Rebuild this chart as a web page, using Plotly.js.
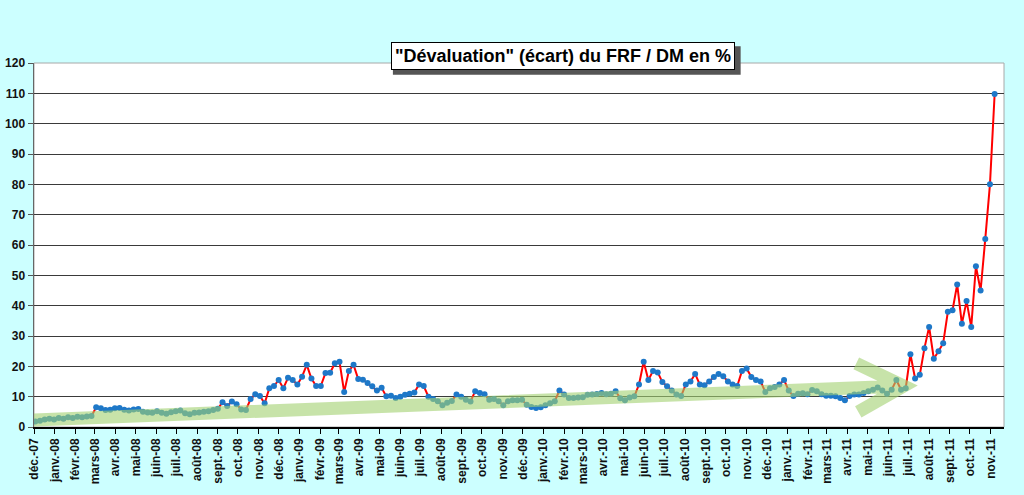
<!DOCTYPE html>
<html>
<head>
<meta charset="utf-8">
<script src="https://cdn.plot.ly/plotly-3.0.1.min.js"></script>
<style>
  html, body { margin: 0; padding: 0; background: #ccffff; }
  #chart { width: 1024px; height: 495px; }
</style>
</head>
<body>
<div id="chart"></div>
<script>
// weekly readings of the FRF / DM gap (%), first week starts 3 Dec 2007
const firstWeek = "2007-12-03";
const ecart = [
  1.8, 2.1, 2.5, 2.7, 2.5, 3.0, 2.7, 3.2, 3.0, 3.4, 3.2, 3.5, 3.6, 6.5, 6.2, 5.6,
  5.7, 6.2, 6.3, 5.7, 5.4, 5.8, 5.9, 5.0, 4.8, 4.7, 5.2, 4.7, 4.4, 4.9, 5.2, 5.4,
  4.5, 4.2, 4.7, 4.8, 5.0, 5.2, 5.6, 6.0, 8.2, 6.9, 8.4, 7.5, 5.8, 5.6, 9.2, 10.8,
  10.2, 7.8, 12.8, 13.5, 15.5, 12.8, 16.2, 15.5, 14.0, 16.6, 20.5, 16.0, 13.5, 13.5, 17.8, 17.9,
  21.0, 21.5, 11.5, 18.5, 20.5, 15.8, 15.6, 14.5, 13.4, 12.0, 12.9, 10.1, 10.3, 9.6, 10.0, 10.6,
  11.0, 11.4, 14.0, 13.5, 10.0, 9.2, 8.5, 7.2, 8.0, 8.6, 10.7, 10.0, 9.0, 8.4, 11.8, 11.2,
  10.8, 9.0, 9.2, 8.5, 7.2, 8.5, 8.8, 8.8, 9.0, 7.3, 6.6, 6.3, 6.5, 7.2, 7.8, 8.5,
  12.0, 10.7, 9.6, 9.6, 9.7, 9.8, 10.6, 10.7, 10.9, 11.2, 10.8, 11.0, 11.8, 9.5, 8.8, 9.7,
  10.1, 14.0, 21.5, 15.5, 18.5, 18.0, 14.8, 13.4, 12.0, 10.7, 10.2, 14.0, 15.0, 17.5, 14.0, 13.8,
  15.0, 16.5, 17.5, 16.7, 15.0, 14.0, 13.5, 18.5, 19.3, 16.5, 15.5, 15.0, 11.5, 12.8, 13.2, 14.0,
  15.5, 12.0, 10.2, 11.0, 11.1, 10.8, 12.2, 11.8, 10.8, 10.3, 10.3, 10.1, 9.6, 8.8, 10.2, 10.7,
  10.7, 11.2, 11.8, 12.3, 13.0, 12.0, 11.0, 12.3, 15.5, 12.3, 12.8, 24.0, 16.0, 17.2, 26.0, 33.0,
  22.5, 25.0, 27.6, 38.0, 38.5, 47.0, 34.0, 41.5, 33.0, 53.0, 45.0, 62.0, 80.0, 109.8
];

const monthLabels = [
  "déc.-07",
  "janv.-08", "févr.-08", "mars-08", "avr.-08", "mai-08", "juin-08",
  "juil.-08", "août-08", "sept.-08", "oct.-08", "nov.-08", "déc.-08",
  "janv.-09", "févr.-09", "mars-09", "avr.-09", "mai-09", "juin-09",
  "juil.-09", "août-09", "sept.-09", "oct.-09", "nov.-09", "déc.-09",
  "janv.-10", "févr.-10", "mars-10", "avr.-10", "mai-10", "juin-10",
  "juil.-10", "août-10", "sept.-10", "oct.-10", "nov.-10", "déc.-10",
  "janv.-11", "févr.-11", "mars-11", "avr.-11", "mai-11", "juin-11",
  "juil.-11", "août-11", "sept.-11", "oct.-11", "nov.-11"
];

// green trend arrow (date, %)
const arrowStart = ["2007-12-01", 2.3];
const arrowTip = ["2011-06-24", 13.5];
const arrowWingUp = ["2011-04-14", 21];
const arrowWingDown = ["2011-04-17", 5];

function addDays(iso, n) {
  const d = new Date(iso + "T00:00:00Z");
  d.setUTCDate(d.getUTCDate() + n);
  return d.toISOString().slice(0, 10);
}

const dates = ecart.map((_, i) => addDays(firstWeek, 7 * i));
const tickDates = monthLabels.map((_, k) =>
  new Date(Date.UTC(2007, 11 + k, 1)).toISOString().slice(0, 10));

const pt = (p) => p[0] + "," + p[1];
const arrowPath = "M" + pt(arrowStart) + "L" + pt(arrowTip) +
  "M" + pt(arrowWingUp) + "L" + pt(arrowTip) + "L" + pt(arrowWingDown);

const trace = {
  x: dates,
  y: ecart,
  type: "scatter",
  mode: "lines+markers",
  line: { color: "#ff0000", width: 2 },
  marker: { color: "#1e78c8", size: 6 },
  hoverinfo: "x+y",
};

const tickFont = { family: "Liberation Sans, Arial, sans-serif", size: 12, color: "#111", weight: "bold" };

const layout = {
  width: 1024,
  height: 495,
  paper_bgcolor: "#ccffff",
  plot_bgcolor: "#ffffff",
  margin: { l: 34, r: 20, t: 63, b: 68 },
  showlegend: false,
  xaxis: {
    type: "date",
    range: ["2007-12-01", "2011-11-21"],
    tickvals: tickDates,
    ticktext: monthLabels,
    tickangle: -90,
    tickfont: tickFont,
    ticks: "outside",
    ticklen: 5,
    tickcolor: "#000",
    showgrid: false,
    showline: true,
    linecolor: "#000",
    linewidth: 1.5,
    zeroline: false,
  },
  yaxis: {
    range: [0, 120],
    dtick: 10,
    tickfont: tickFont,
    ticks: "outside",
    ticklen: 5,
    tickcolor: "#555",
    showgrid: true,
    gridcolor: "#3a3a3a",
    gridwidth: 1,
    showline: true,
    linecolor: "#666",
    linewidth: 1.5,
    zeroline: false,
  },
  shapes: [
    {
      type: "rect", xref: "paper", yref: "paper", x0: 0, x1: 1, y0: 0, y1: 1,
      line: { color: "#a8a8a8", width: 1 }, layer: "below",
    },
    {
      type: "path", xref: "x", yref: "y", path: arrowPath,
      line: { color: "rgb(163,210,113)", width: 13 }, opacity: 0.6, layer: "above",
    },
    {
      type: "rect", xref: "paper", yref: "paper",
      x0: 0.37, x1: 0.7285, y0: 0.968, y1: 1.046,
      fillcolor: "#555", line: { width: 0 }, layer: "above",
    },
  ],
  annotations: [
    {
      xref: "paper", yref: "paper", x: 0.545, y: 1.019,
      xanchor: "center", yanchor: "middle", showarrow: false,
      text: "\"Dévaluation\" (écart) du FRF / DM en %",
      font: { family: "Liberation Sans, Arial, sans-serif", size: 18, color: "#000", weight: "bold" },
      bgcolor: "#ffffff", bordercolor: "#000", borderwidth: 1, borderpad: 3,
    },
  ],
};

Plotly.newPlot("chart", [trace], layout, { displayModeBar: false, staticPlot: true });
</script>
</body>
</html>
